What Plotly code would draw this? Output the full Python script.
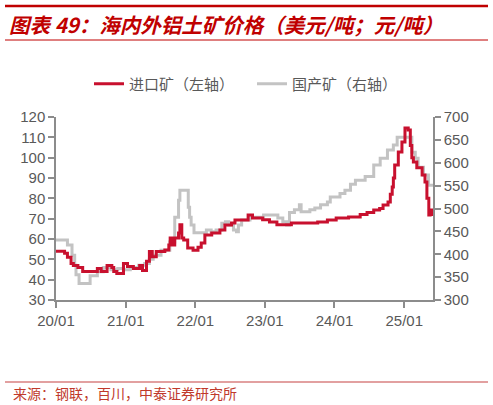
import plotly.graph_objects as go

# ---- data: imported bauxite (USD/t, left axis) ----
imp_dates = ["2020-01-01","2020-02-15","2020-03-01","2020-03-20","2020-04-01","2020-04-25","2020-05-20",
             "2020-08-05","2020-08-25","2020-09-25","2020-10-20","2020-10-30","2020-11-15","2020-12-20",
             "2021-01-10","2021-02-10","2021-03-15","2021-03-30","2021-04-20","2021-05-05","2021-05-20",
             "2021-06-10","2021-07-25","2021-08-15","2021-08-22","2021-09-01","2021-09-15","2021-10-05",
             "2021-10-12","2021-10-22","2021-11-01","2021-11-22","2021-12-20","2022-01-15","2022-02-01",
             "2022-02-20","2022-03-28","2022-05-10","2022-06-05","2022-07-10","2022-07-28","2022-10-05",
             "2022-10-28","2022-12-20","2023-01-25","2023-03-05","2023-05-20","2023-10-05","2023-11-25",
             "2024-01-10","2024-03-15","2024-05-15","2024-06-20","2024-07-25","2024-08-25","2024-09-12",
             "2024-10-08","2024-10-20","2024-10-30","2024-11-05","2024-11-12","2024-12-01","2024-12-20",
             "2025-01-05","2025-01-22","2025-02-02","2025-02-10","2025-02-18","2025-03-08","2025-04-05",
             "2025-04-20","2025-04-30","2025-05-10","2025-05-17","2025-05-25","2025-06-01"]
imp_vals = [54,53,51,48,47,46,44,
            45.5,44,47,46,44,43,48,
            46.5,45.5,47,44.5,49,53.8,51.3,
            53.8,54.6,57,60.5,57,60.5,63,
            67,60.5,59.5,55.6,54.5,56,58,
            62,63,64.4,66.9,67.9,69.4,71.8,
            70.3,69.5,68.4,67,67.9,68.4,69.4,
            70.3,70.8,72,73,74.3,75,76.7,
            78.2,82,85.6,90,96.4,102.8,107.7,
            114.6,113.6,106,100,97.9,95,91.5,
            88,80,71.8,72,74.3,74.3]

# ---- data: domestic bauxite (CNY/t, right axis) ----
dom_dates = ["2020-01-01","2020-03-01","2020-03-25","2020-04-08","2020-04-15","2020-05-01","2020-06-28",
             "2020-08-05","2020-09-05","2020-10-15","2020-11-20","2020-12-20","2021-01-25","2021-03-10",
             "2021-04-10","2021-05-05","2021-05-25","2021-07-05","2021-08-20","2021-09-15","2021-10-05",
             "2021-10-12","2021-11-25","2021-12-02","2021-12-10","2021-12-25","2022-02-28","2022-03-25",
             "2022-04-20","2022-05-20","2022-06-08","2022-06-25","2022-07-20","2022-08-05","2022-08-15",
             "2022-09-01","2022-10-15","2022-12-25","2023-03-10","2023-04-05","2023-04-25","2023-05-10",
             "2023-06-05","2023-07-01","2023-07-10","2023-08-25","2023-09-20","2023-10-20","2023-11-25",
             "2023-12-10","2024-01-30","2024-02-25","2024-03-25","2024-04-20","2024-06-10","2024-07-25",
             "2024-08-28","2024-10-05","2024-11-05","2024-11-25","2025-02-10","2025-02-28","2025-03-15",
             "2025-04-12","2025-05-08","2025-06-01"]
dom_vals = [431,420,398,376,355,336,353,
            362,371,366,369,366,371,376,
            380,389,398,409,427,481,518,
            540,503,481,464,447,453,449,
            453,468,471,464,453,449,464,
            475,481,486,479,471,464,491,
            497,508,493,497,501,508,514,
            525,533,540,553,562,570,595,
            610,628,639,656,623,610,590,
            573,551,551]

x_tickvals = ["2020-01-01","2021-01-01","2022-01-01","2023-01-01","2024-01-01","2025-01-01"]
x_ticktext = ["20/01","21/01","22/01","23/01","24/01","25/01"]

RED = "#C8102E"
GRAY = "#C3C3C3"
AX = "#8C8C8C"
TXT = "#595959"

fig = go.Figure()
fig.add_trace(go.Scatter(x=imp_dates, y=imp_vals, name="进口矿（左轴）", mode="lines",
                         line=dict(color=RED, width=3, shape="hv"), yaxis="y2"))
fig.add_trace(go.Scatter(x=dom_dates, y=dom_vals, name="国产矿（右轴）", mode="lines",
                         line=dict(color=GRAY, width=3, shape="hv"), yaxis="y"))

L, R, T, B = 56, 433, 117, 300
W, H = 493, 405
def px(x):
    return (x - L) / (R - L)
def py(y):
    return (B - y) / (B - T)

shapes = [
    dict(type="line", xref="paper", yref="paper", x0=px(5), x1=px(488), y0=py(6), y1=py(6),
         line=dict(color="#C00000", width=2.5)),
    dict(type="line", xref="paper", yref="paper", x0=px(5), x1=px(488), y0=py(40), y1=py(40),
         line=dict(color="#C00000", width=1)),
    dict(type="line", xref="paper", yref="paper", x0=px(5), x1=px(488), y0=py(382), y1=py(382),
         line=dict(color="#D98080", width=1.5)),
]

annotations = [
    dict(text="图表 49：海内外铝土矿价格（美元/吨；元/吨）", xref="paper", yref="paper",
         x=px(7), y=py(24), xanchor="left", yanchor="middle", showarrow=False,
         font=dict(family="Noto Sans CJK SC", size=20.5, color="#C00000", weight="bold", style="italic")),
    dict(text="来源：钢联，百川，中泰证券研究所", xref="paper", yref="paper",
         x=px(11), y=py(393), xanchor="left", yanchor="middle", showarrow=False,
         font=dict(family="Noto Sans CJK SC", size=14, color="#C0392B")),
]

axis_common = dict(showgrid=False, zeroline=False, showline=True, linecolor=AX, linewidth=1.5,
                   ticks="outside", ticklen=6, tickcolor=AX, tickwidth=1.5,
                   tickfont=dict(family="Liberation Sans", size=15, color=TXT))

fig.update_layout(
    width=W, height=H,
    margin=dict(l=L, r=W - R, t=T, b=H - B, pad=0),
    paper_bgcolor="white", plot_bgcolor="white",
    showlegend=True,
    legend=dict(orientation="h", x=px(89), y=py(84), xanchor="left", yanchor="middle",
                font=dict(family="Noto Sans CJK SC", size=15, color=TXT),
                entrywidth=118, entrywidthmode="pixels",
                bgcolor="rgba(0,0,0,0)", traceorder="normal"),
    xaxis=dict(type="date", range=["2020-01-01", "2025-06-01"], tickvals=x_tickvals,
               ticktext=x_ticktext, **axis_common),
    yaxis=dict(range=[300, 700], dtick=50, side="right", **axis_common),
    yaxis2=dict(range=[30, 120], dtick=10, side="left", overlaying="y", **axis_common),
    shapes=shapes, annotations=annotations,
)

fig.write_html("out.html", config={"displayModeBar": False},
               post_script="document.body.style.margin='0';document.body.style.padding='0';"
                           "document.body.style.overflow='hidden';")
